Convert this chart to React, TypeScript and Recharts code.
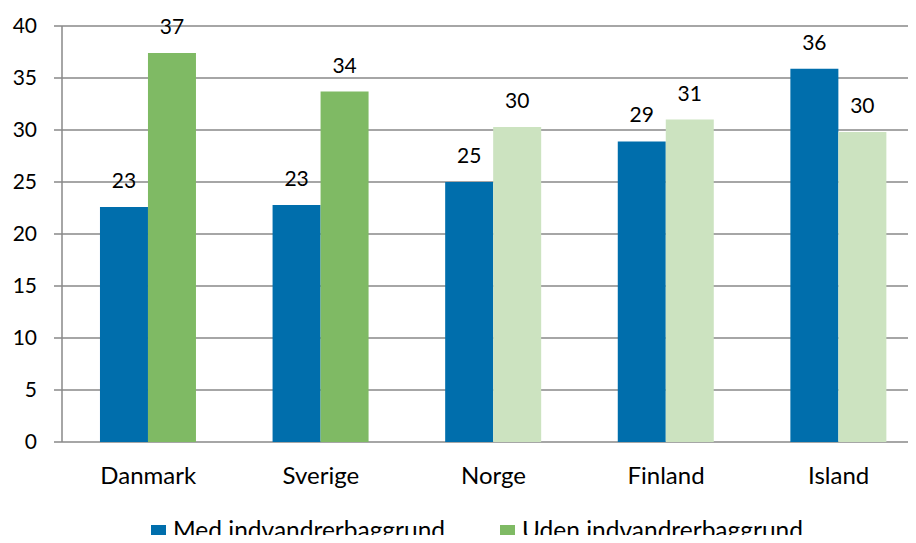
import { BarChart, Bar, XAxis, YAxis, CartesianGrid, Legend, LabelList, Cell } from "recharts";

const countries = ["Danmark", "Sverige", "Norge", "Finland", "Island"];
const medValues = [22.6, 22.8, 25.0, 28.9, 35.9];
const udenValues = [37.4, 33.7, 30.3, 31.0, 29.8];
const yTicks = [0, 5, 10, 15, 20, 25, 30, 35, 40];
const edgeTicks = [0, 1, 2, 3, 4, 5];

const BLUE = "#006EAC";
const GREEN = "#7FBA64";
const LIGHT_GREEN = "#CCE3C0";
const GRID = "#898989";
const udenColors = [GREEN, GREEN, LIGHT_GREEN, LIGHT_GREEN, LIGHT_GREEN];

const FONT = "Lato, 'Open Sans', sans-serif";

const data = countries.map((c, i) => ({ country: c, med: medValues[i], uden: udenValues[i] }));

const legendItems = [
  { label: "Med indvandrerbaggrund", color: BLUE, x: 151 },
  { label: "Uden indvandrerbaggrund", color: GREEN, x: 500 },
];

// legend drawn as a small svg strip so the square and text line up exactly
function ChartLegend() {
  return (
    <svg width={916} height={38} style={{ display: "block", overflow: "visible" }}>
      {legendItems.map((it) => (
        <g key={it.label}>
          <rect x={it.x} y={20} width={15} height={14} fill={it.color} />
          <text x={it.x + 22} y={34} fontFamily={FONT} fontSize={24.5} fill="#000">
            {it.label}
          </text>
        </g>
      ))}
    </svg>
  );
}

export default function App() {
  const tickStyle = { fontSize: 21, fill: "#000", fontFamily: FONT };
  const round = (v: any) => Math.round(Number(v));
  return (
    <div style={{ margin: -8, width: 916, height: 543, background: "#fff", overflow: "hidden" }}>
      <BarChart width={916} height={543} data={data} margin={{ top: 26, right: -9, left: 0, bottom: 3 }} barCategoryGap="22%" barGap={0}>
        <CartesianGrid vertical={false} stroke={GRID} strokeWidth={1.5} xAxisId="cat" />
        <XAxis
          xAxisId="edges"
          type="number"
          domain={[0, 5]}
          ticks={edgeTicks}
          height={0}
          tickSize={8}
          tickFormatter={() => ""}
          axisLine={{ stroke: GRID, strokeWidth: 1.5 }}
          tickLine={{ stroke: GRID, strokeWidth: 1.5 }}
        />
        <XAxis
          xAxisId="cat"
          dataKey="country"
          height={60}
          axisLine={false}
          tickLine={false}
          tickSize={0}
          tickMargin={25}
          tick={{ ...tickStyle, fontSize: 24 }}
        />
        <YAxis
          width={62}
          domain={[0, 40]}
          ticks={yTicks}
          tickSize={8}
          tickMargin={17}
          tick={tickStyle}
          axisLine={{ stroke: GRID, strokeWidth: 1.5 }}
          tickLine={{ stroke: GRID, strokeWidth: 1.5 }}
        />
        <Legend verticalAlign="bottom" content={() => <ChartLegend />} wrapperStyle={{ top: 505, left: 0, width: 916, height: 38 }} />
        <Bar xAxisId="cat" dataKey="med" name="Med indvandrerbaggrund" fill={BLUE} isAnimationActive={false}>
          <LabelList dataKey="med" position="top" offset={19} formatter={round} style={tickStyle} />
        </Bar>
        <Bar xAxisId="cat" dataKey="uden" name="Uden indvandrerbaggrund" fill={GREEN} isAnimationActive={false}>
          {data.map((d, i) => (
            <Cell key={d.country} fill={udenColors[i]} />
          ))}
          <LabelList dataKey="uden" position="top" offset={19} formatter={round} style={tickStyle} />
        </Bar>
      </BarChart>
    </div>
  );
}
